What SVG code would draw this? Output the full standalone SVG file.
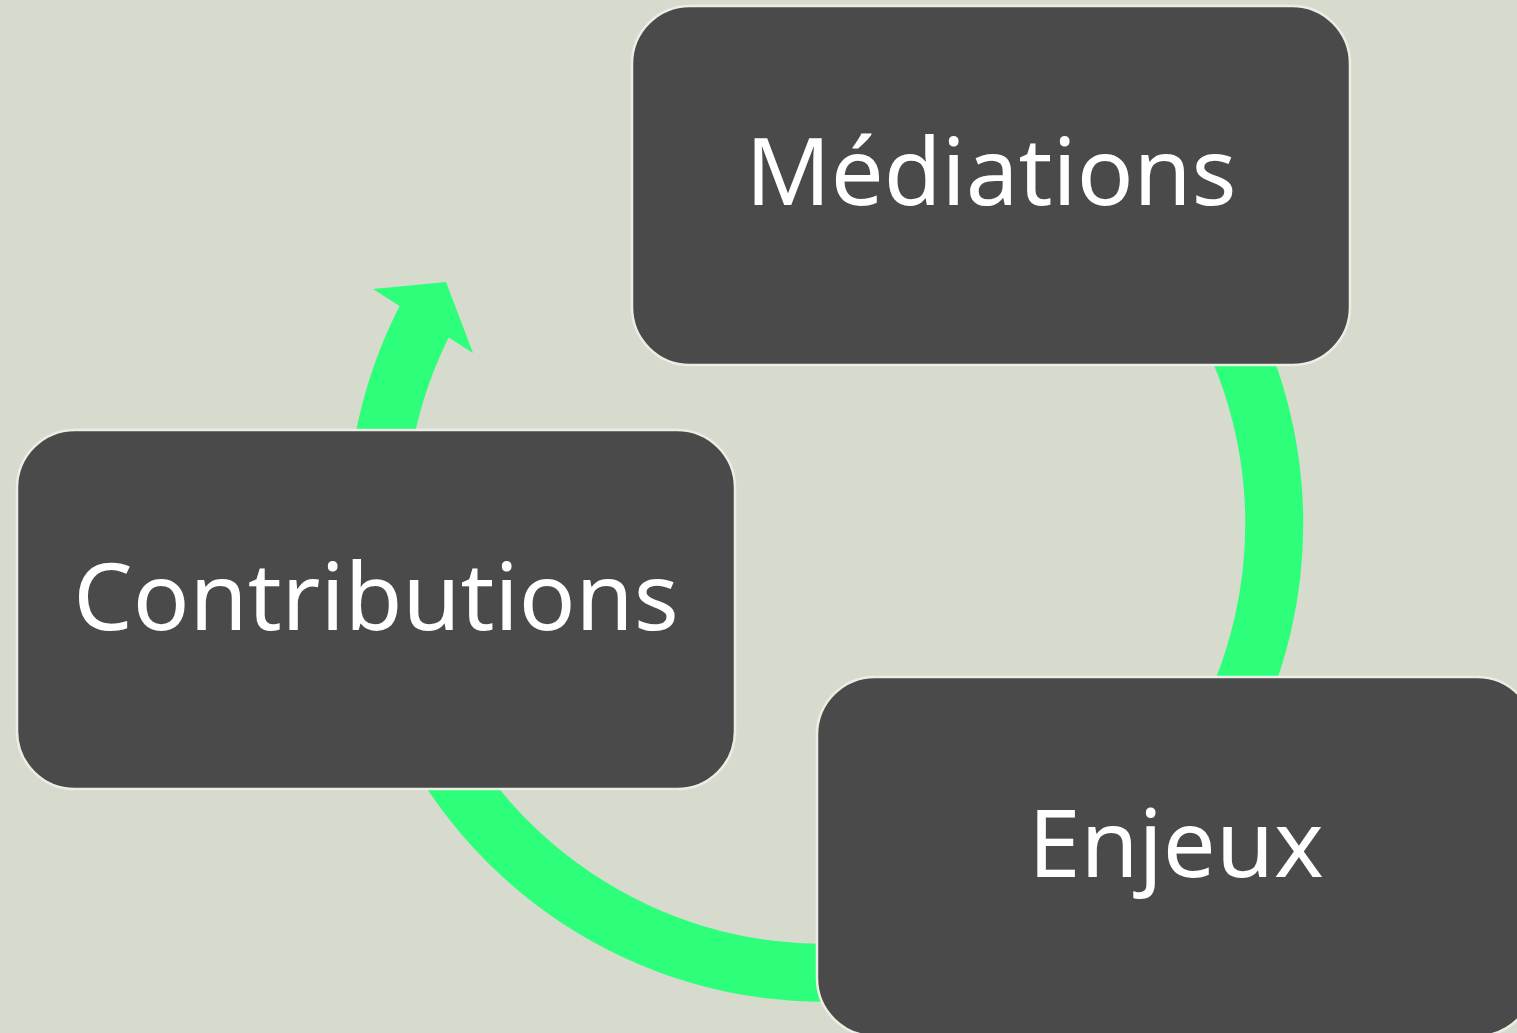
<svg xmlns="http://www.w3.org/2000/svg" width="1517" height="1033" viewBox="0 0 1517 1033">
  <style>
    .ring { fill: none; stroke: #2eff7a; stroke-width: 58; stroke-linecap: butt; }
    .head { fill: #2eff7a; }
    .node { fill: #4a4a4a; stroke: #eceee6; stroke-width: 2.5; }
    .label { fill: #ffffff; font-family: "Noto Sans", "Open Sans", sans-serif; font-size: 94px; text-anchor: middle; }
  </style>
  <rect width="1517" height="1033" fill="#d7dbcd"/>
  <g id="connectors">
    <path class="ring" d="M 1169 235 A 449 449 0 0 1 1214 748.5"/>
    <path class="ring" d="M 903 966.2 A 449 449 0 0 1 436.2 748.5"/>
    <path class="ring" d="M 382.8 446 A 449 449 0 0 1 428.6 313.2"/>
    <polygon class="head" points="398,305 373,289 446,282 473,353 448,337"/>
  </g>
  <g id="node-mediations">
    <rect class="node" x="632" y="6" width="718" height="359" rx="58"/>
    <text class="label" x="991" y="205">Médiations</text>
  </g>
  <g id="node-enjeux">
    <rect class="node" x="817" y="677" width="718" height="359" rx="58"/>
    <text class="label" x="1176" y="877">Enjeux</text>
  </g>
  <g id="node-contributions">
    <rect class="node" x="17" y="430" width="718" height="359" rx="58"/>
    <text class="label" x="376" y="630">Contributions</text>
  </g>
</svg>
